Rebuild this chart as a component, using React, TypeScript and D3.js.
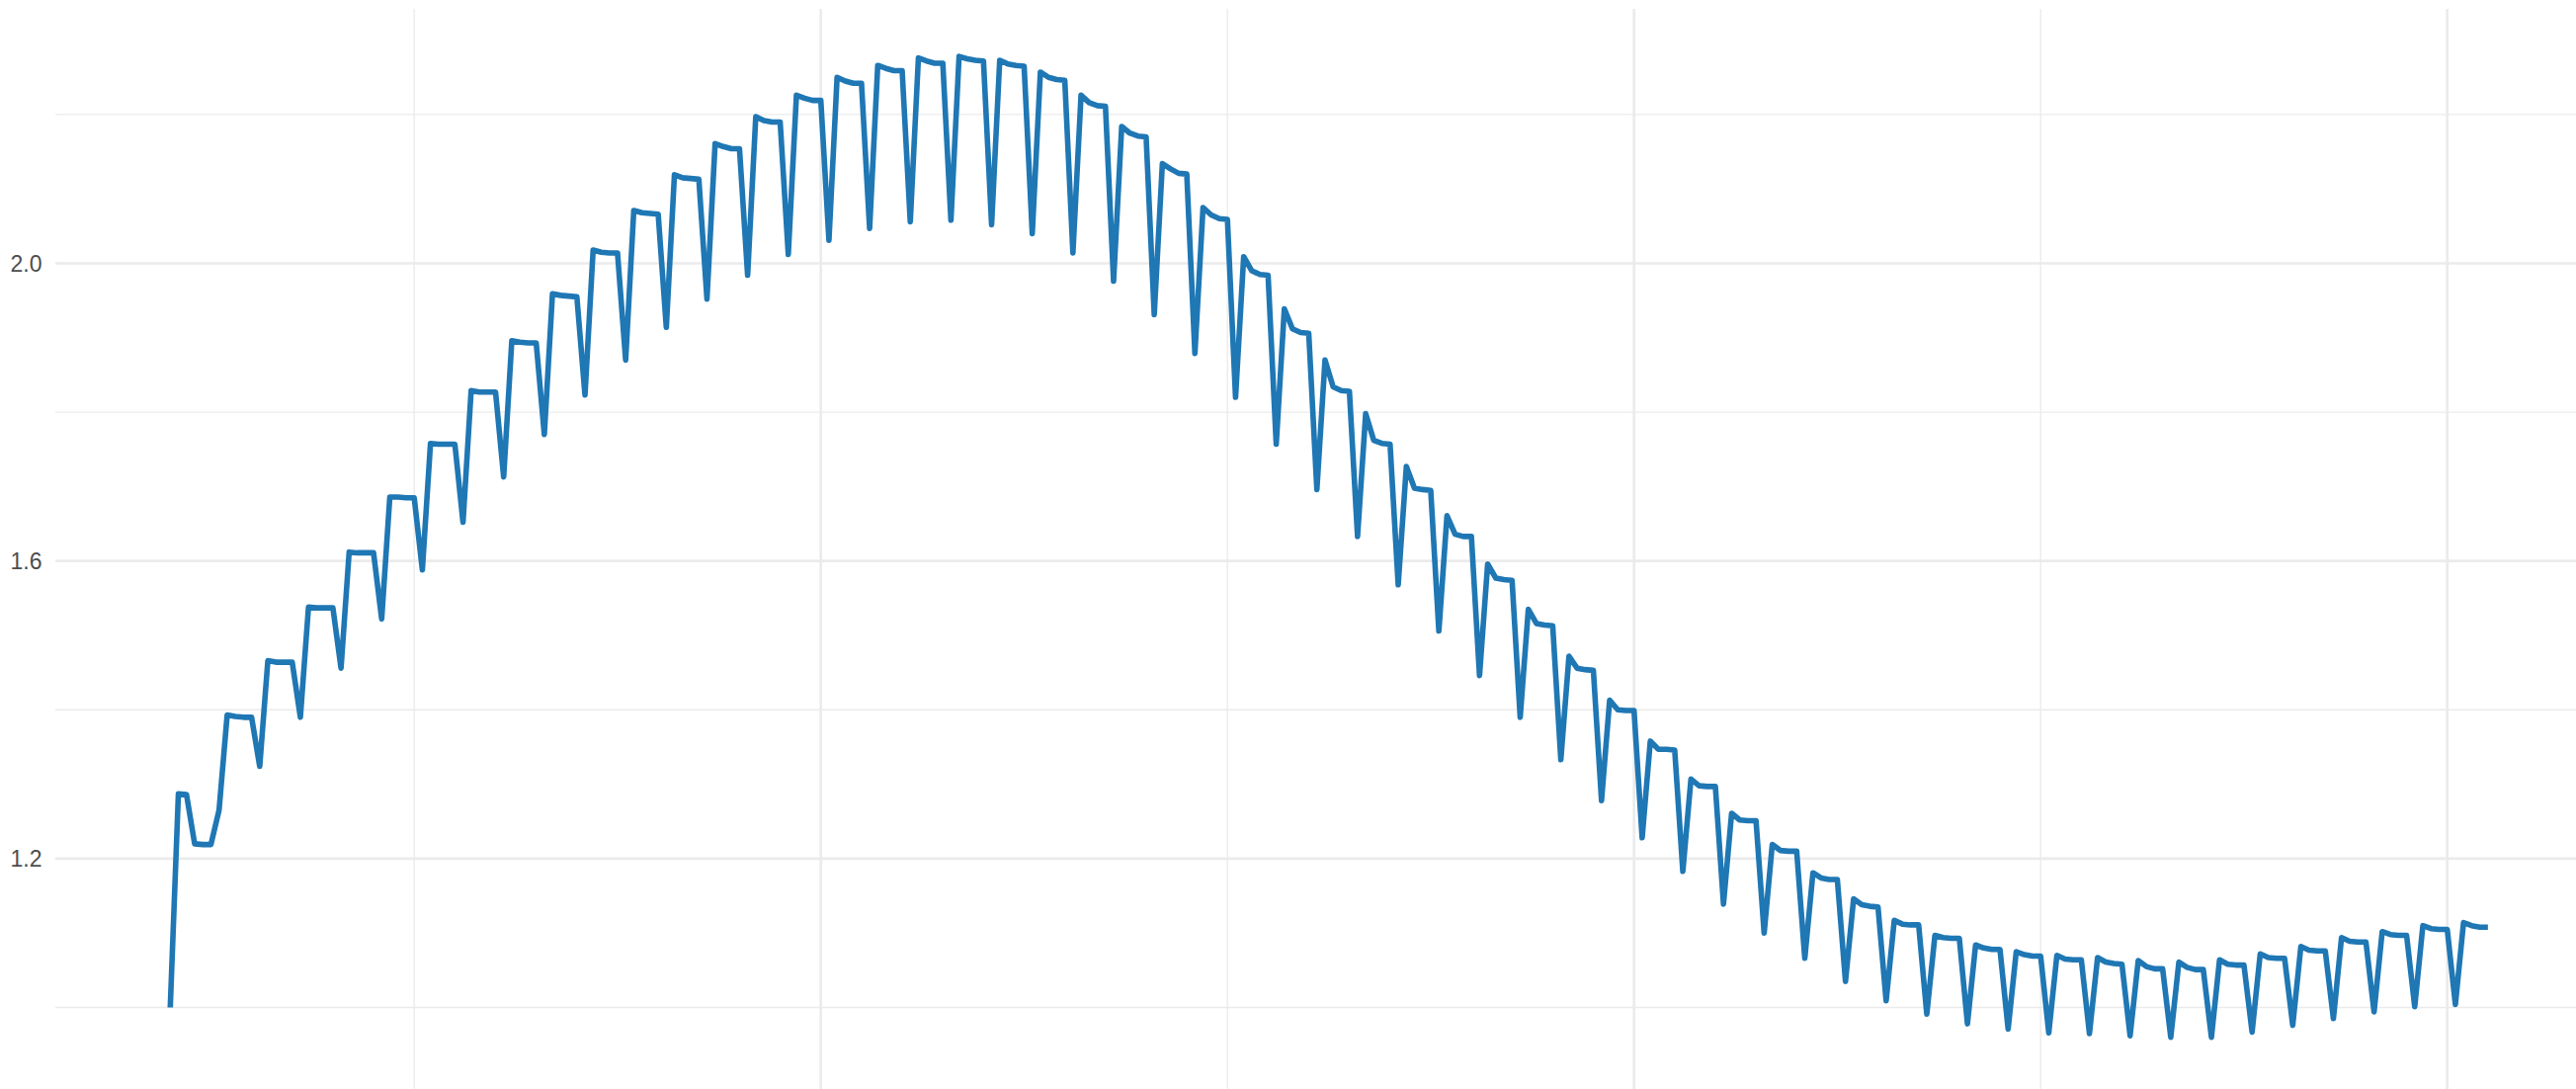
import React from "react";
import * as d3 from "d3";

// ---- data ----
const startIndex = 20;
const values: number[] = [
  1.000, 1.287, 1.286, 1.220, 1.219, 1.219, 1.265,
  1.393, 1.391, 1.390, 1.390, 1.324,
  1.466, 1.464, 1.464, 1.464, 1.390,
  1.538, 1.537, 1.537, 1.537, 1.456,
  1.612, 1.611, 1.611, 1.611, 1.522,
  1.686, 1.686, 1.685, 1.685, 1.588,
  1.758, 1.757, 1.757, 1.757, 1.652,
  1.829, 1.827, 1.827, 1.827, 1.713,
  1.896, 1.894, 1.893, 1.893, 1.770,
  1.959, 1.957, 1.956, 1.955, 1.823,
  2.018, 2.015, 2.014, 2.014, 1.870,
  2.071, 2.068, 2.067, 2.066, 1.914,
  2.119, 2.115, 2.114, 2.113, 1.952,
  2.161, 2.157, 2.154, 2.154, 1.984,
  2.197, 2.192, 2.190, 2.190, 2.012,
  2.226, 2.222, 2.219, 2.219, 2.031,
  2.250, 2.245, 2.242, 2.242, 2.047,
  2.266, 2.262, 2.259, 2.259, 2.056,
  2.276, 2.272, 2.269, 2.269, 2.058,
  2.278, 2.275, 2.273, 2.272, 2.052,
  2.273, 2.268, 2.266, 2.265, 2.040,
  2.257, 2.250, 2.247, 2.246, 2.014,
  2.226, 2.216, 2.212, 2.211, 1.976,
  2.184, 2.175, 2.171, 2.170, 1.931,
  2.134, 2.127, 2.121, 2.120, 1.879,
  2.075, 2.065, 2.060, 2.059, 1.820,
  2.009, 1.990, 1.985, 1.984, 1.757,
  1.939, 1.912, 1.907, 1.906, 1.696,
  1.870, 1.834, 1.829, 1.828, 1.633,
  1.798, 1.762, 1.758, 1.757, 1.568,
  1.727, 1.698, 1.696, 1.695, 1.506,
  1.661, 1.636, 1.633, 1.633, 1.446,
  1.596, 1.577, 1.575, 1.574, 1.390,
  1.535, 1.516, 1.514, 1.513, 1.333,
  1.472, 1.456, 1.454, 1.453, 1.278,
  1.413, 1.400, 1.399, 1.399, 1.228,
  1.358, 1.347, 1.347, 1.346, 1.183,
  1.307, 1.298, 1.297, 1.297, 1.139,
  1.261, 1.252, 1.251, 1.251, 1.100,
  1.219, 1.211, 1.210, 1.210, 1.066,
  1.181, 1.174, 1.172, 1.172, 1.035,
  1.146, 1.138, 1.136, 1.135, 1.009,
  1.117, 1.112, 1.111, 1.111, 0.991,
  1.097, 1.094, 1.093, 1.093, 0.978,
  1.084, 1.080, 1.078, 1.078, 0.971,
  1.075, 1.071, 1.069, 1.069, 0.966,
  1.070, 1.065, 1.064, 1.064, 0.965,
  1.067, 1.061, 1.059, 1.058, 0.962,
  1.063, 1.055, 1.052, 1.052, 0.960,
  1.061, 1.054, 1.051, 1.051, 0.960,
  1.064, 1.058, 1.057, 1.057, 0.967,
  1.072, 1.067, 1.066, 1.066, 0.976,
  1.082, 1.077, 1.076, 1.076, 0.985,
  1.094, 1.089, 1.088, 1.088, 0.994,
  1.102, 1.098, 1.097, 1.097, 1.001,
  1.110, 1.106, 1.105, 1.105, 1.004,
  1.114, 1.110, 1.108, 1.108,
];
const xIndex: number[] = d3.range(startIndex, startIndex + values.length);

const yMajorTicks = [1.2, 1.6, 2.0];
const yMinorTicks = [1.0, 1.4, 1.8, 2.2];
const xMajorTicks = [100, 200, 300];
const xMinorTicks = [50, 150, 250];
const yTickLabels = ["1.2", "1.6", "2.0"];

const W = 2607;
const H = 1102;
const panelLeft = 56;
const panelTop = 9;

export default function App() {
  const x = d3.scaleLinear().domain([0, 300]).range([7.7, 2476.7]);
  const y = d3.scaleLinear().domain([1, 2]).range([1019.5, 266.5]);

  const pts = xIndex.map((t, i) => [t, values[i]] as [number, number]);
  const line = d3
    .line<[number, number]>()
    .x((d) => x(d[0]))
    .y((d) => y(d[1]));

  const grid = "#ebebeb";

  return (
    <svg
      width={W}
      height={H}
      style={{ position: "absolute", left: 0, top: 0, background: "#ffffff" }}
    >
      <rect x={0} y={0} width={W} height={H} fill="#ffffff" />
      {/* minor gridlines */}
      {yMinorTicks.map((v) => (
        <line key={"ymin" + v} x1={panelLeft} x2={W} y1={y(v)} y2={y(v)} stroke={grid} strokeWidth={1.4} />
      ))}
      {xMinorTicks.map((v) => (
        <line key={"xmin" + v} x1={x(v)} x2={x(v)} y1={panelTop} y2={H} stroke={grid} strokeWidth={1.4} />
      ))}
      {/* major gridlines */}
      {yMajorTicks.map((v) => (
        <line key={"ymaj" + v} x1={panelLeft} x2={W} y1={y(v)} y2={y(v)} stroke={grid} strokeWidth={2.7} />
      ))}
      {xMajorTicks.map((v) => (
        <line key={"xmaj" + v} x1={x(v)} x2={x(v)} y1={panelTop} y2={H} stroke={grid} strokeWidth={2.7} />
      ))}
      {/* y tick labels */}
      {yMajorTicks.map((v, i) => (
        <text
          key={"yl" + v}
          x={42.5}
          y={y(v) + 8.3}
          textAnchor="end"
          fontFamily="'Liberation Sans', Arial, Helvetica, sans-serif"
          fontSize={23}
          fill="#4d4d4d"
        >
          {yTickLabels[i]}
        </text>
      ))}
      {/* series */}
      <path
        d={line(pts) || ""}
        fill="none"
        stroke="#1f77b4"
        strokeWidth={5.6}
        strokeLinejoin="round"
        strokeLinecap="butt"
      />
    </svg>
  );
}
